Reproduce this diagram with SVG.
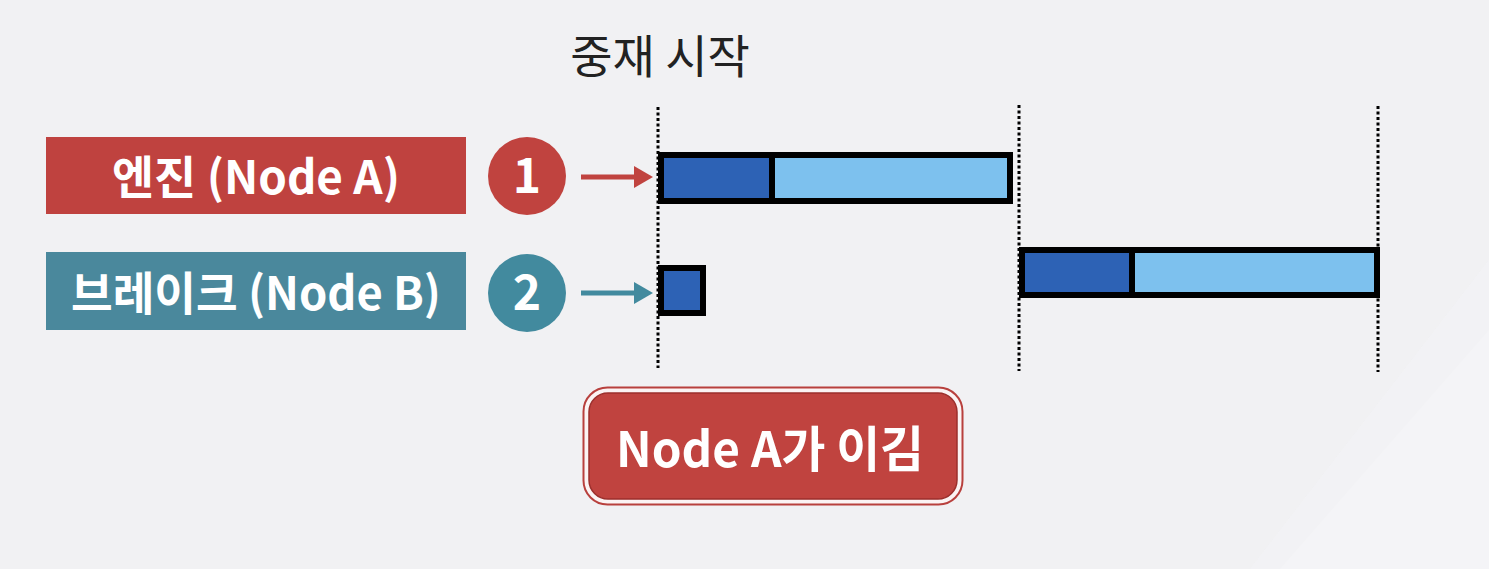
<svg xmlns="http://www.w3.org/2000/svg" width="1489" height="569" viewBox="0 0 1489 569">
<style>
.lbl{font-family:"Noto Sans CJK KR","Noto Sans",sans-serif;font-weight:700;fill:#ffffff;text-anchor:middle}
.title{font-family:"Noto Sans CJK KR","Noto Sans",sans-serif;font-weight:400;fill:#222222;text-anchor:middle}
.dot{stroke:#000;stroke-width:3;stroke-dasharray:3 2.5;fill:none}
.bar{stroke:#000;stroke-width:6}
.dark{fill:#2d62b5}
.light{fill:#7dc1ee}
</style>
<rect width="1489" height="569" fill="#f1f1f3"/>
<polygon points="1489,330 1280,569 1489,569" fill="#f5f5f7"/>
<polygon points="1250,569 1489,260 1489,569" fill="#f4f4f6" opacity="0.6"/>
<g id="title"><text class="title" x="660" y="73" font-size="46">중재 시작</text></g>
<g id="grid">
<line class="dot" x1="658" y1="107" x2="658" y2="368"/>
<line class="dot" x1="1019" y1="105" x2="1019" y2="371"/>
<line class="dot" x1="1378" y1="106" x2="1378" y2="372"/>
</g>
<g id="nodeA">
<rect x="46" y="137" width="420" height="77" fill="#bf423f"/>
<text class="lbl" x="256" y="194" font-size="46" textLength="288" lengthAdjust="spacingAndGlyphs">엔진 (Node A)</text>
</g>
<g id="nodeB">
<rect x="46" y="252" width="420" height="78" fill="#4a889c"/>
<text class="lbl" x="256" y="310" font-size="46" textLength="370" lengthAdjust="spacingAndGlyphs">브레이크 (Node B)</text>
</g>
<g id="circle1">
<circle cx="527" cy="176" r="39" fill="#c0433f"/>
<text class="lbl" x="527" y="193" font-size="48">1</text>
</g>
<g id="circle2">
<circle cx="527" cy="293" r="39" fill="#428a9e"/>
<text class="lbl" x="527" y="310" font-size="48">2</text>
</g>
<g id="connectors">
<line x1="581" y1="177" x2="638" y2="177" stroke="#c0433f" stroke-width="5"/>
<polygon points="634,166 653,177 634,188" fill="#c0433f"/>
<line x1="581" y1="293" x2="638" y2="293" stroke="#428a9e" stroke-width="5"/>
<polygon points="634,282 653,293 634,304" fill="#428a9e"/>
</g>
<g id="barA">
<rect class="bar light" x="661" y="155" width="349" height="46"/>
<rect class="dark" x="664" y="158" width="108" height="40"/>
<line x1="772" y1="155" x2="772" y2="201" stroke="#000" stroke-width="6"/>
</g>
<g id="barB1">
<rect class="bar dark" x="661" y="268" width="42" height="45"/>
</g>
<g id="barB2">
<rect class="bar light" x="1022" y="250" width="355" height="45"/>
<rect class="dark" x="1025" y="253" width="107" height="39"/>
<line x1="1132" y1="250" x2="1132" y2="295" stroke="#000" stroke-width="6"/>
</g>
<g id="result">
<rect x="583.5" y="387.5" width="379" height="117" rx="24" fill="#fbf3f3" stroke="#b8403d" stroke-width="2"/>
<rect x="589" y="393" width="368" height="106" rx="19" fill="#c0433f" stroke="#9c2f2c" stroke-width="1.5"/>
<text class="lbl" x="770" y="467" font-size="49" textLength="308" lengthAdjust="spacingAndGlyphs">Node A가 이김</text>
</g>
</svg>
